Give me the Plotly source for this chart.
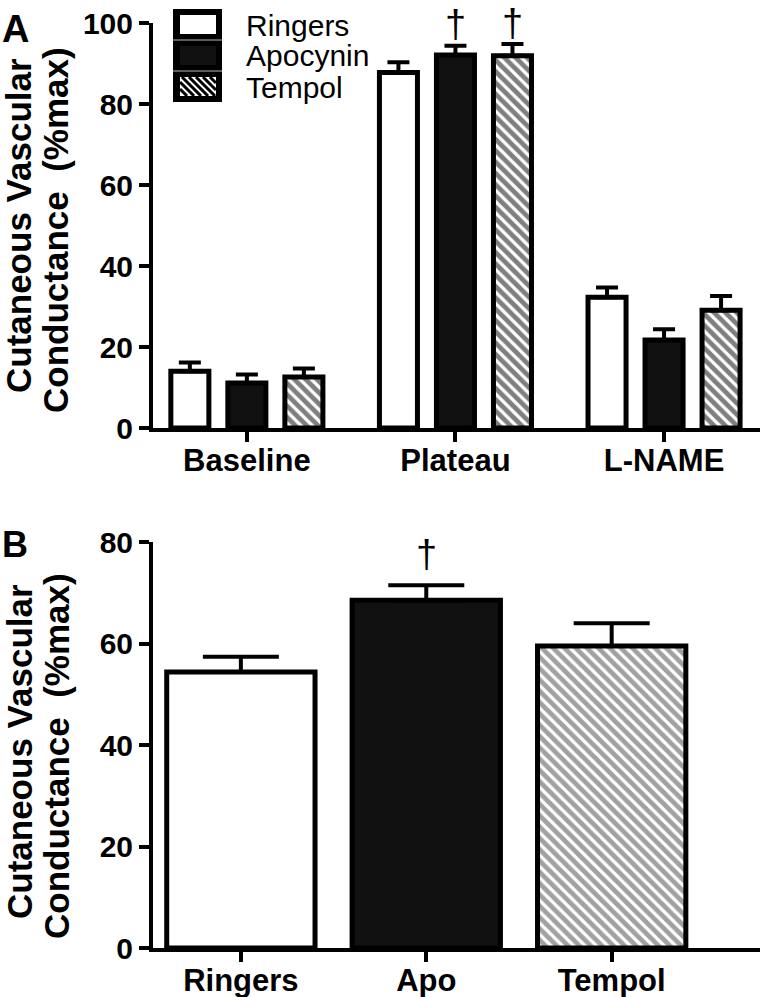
import plotly.graph_objects as go

# ---------------- data ----------------
categories_a = ["Baseline", "Plateau", "L-NAME"]
series_names = ["Ringers", "Apocynin", "Tempol"]
ringers_mean = [14.0, 87.8, 32.3]
ringers_sem = [2.2, 2.5, 2.4]
apocynin_mean = [11.1, 92.1, 21.7]
apocynin_sem = [2.1, 2.3, 2.7]
tempol_mean = [12.6, 91.9, 29.1]
tempol_sem = [2.1, 2.9, 3.5]

categories_b = ["Ringers", "Apo", "Tempol"]
b_mean = [54.4, 68.5, 59.5]
b_sem = [3.0, 3.0, 4.5]

yticks_a = [0, 20, 40, 60, 80, 100]
yticks_b = [0, 20, 40, 60, 80]

sig_a = [("Plateau", "Apocynin"), ("Plateau", "Tempol")]
sig_b = ["Apo"]

ytitle_line1 = "Cutaneous Vascular"
ytitle_line2 = "Conductance\u00a0 (%max)"

# ---------------- styles ----------------
W, H = 760, 997
FONT = "Liberation Sans, Arial, sans-serif"
fills = {"Ringers": "white", "Apocynin": "#111111", "Tempol": "white"}
patterns = {"Ringers": "", "Apocynin": "", "Tempol": "\\"}
BARGAP = 0.18
BARGROUPGAP = 0.333
PAT = dict(fgcolor="black", bgcolor="white", size=8, solidity=0.6)


def px(x):
    return x / W


def py(y):
    return 1 - y / H


fig = go.Figure()

means_a = [ringers_mean, apocynin_mean, tempol_mean]
sems_a = [ringers_sem, apocynin_sem, tempol_sem]
for name, m, s in zip(series_names, means_a, sems_a):
    fig.add_trace(go.Bar(
        x=categories_a, y=m, name=name, xaxis="x", yaxis="y", showlegend=False,
        marker=dict(color=fills[name], line=dict(color="black", width=5),
                    pattern=dict(shape=patterns[name], **PAT)),
        error_y=dict(type="data", array=s, arrayminus=[0] * len(s), symmetric=False,
                     color="black", thickness=4, width=11),
    ))

b_fills = [fills["Ringers"], fills["Apocynin"], fills["Tempol"]]
b_pats = [patterns["Ringers"], patterns["Apocynin"], patterns["Tempol"]]
fig.add_trace(go.Bar(
    x=categories_b, y=b_mean, xaxis="x2", yaxis="y2", showlegend=False,
    width=0.8, offset=-0.4,
    marker=dict(color=b_fills, line=dict(color="black", width=5),
                pattern=dict(shape=b_pats, **PAT)),
    error_y=dict(type="data", array=b_sem, arrayminus=[0] * len(b_sem), symmetric=False,
                 color="black", thickness=4, width=38),
))

axis_common = dict(showline=True, linewidth=4, linecolor="black", ticks="outside",
                   ticklen=10, tickwidth=4, tickcolor="black", showgrid=False,
                   zeroline=False, fixedrange=True, automargin=False)
xfont = dict(family=FONT, size=31, color="black", weight="bold")
yfont = dict(family=FONT, size=30, color="black", weight="bold")

fig.update_layout(
    width=W, height=H, margin=dict(l=0, r=0, t=0, b=0, pad=0),
    paper_bgcolor="white", plot_bgcolor="white",
    barmode="group", bargap=BARGAP, bargroupgap=BARGROUPGAP,
    xaxis=dict(domain=[px(153), 1], anchor="y", range=[-0.45, 2.46],
               tickfont=xfont, ticklabelstandoff=-8, **axis_common),
    yaxis=dict(domain=[py(428), py(23)], anchor="x", range=[0, 100], tickvals=yticks_a,
               tickfont=yfont, **axis_common),
    xaxis2=dict(domain=[px(153), 1], anchor="y2", range=[-0.474, 2.80],
                tickfont=xfont, ticklabelstandoff=-8, **axis_common),
    yaxis2=dict(domain=[py(948), py(542)], anchor="x2", range=[0, 80], tickvals=yticks_b,
                tickfont=yfont, **axis_common),
)

annotations = []
shapes = []

# significance daggers
slot = (1 - BARGAP) / len(series_names)
dagger_gap_a = {"Apocynin": -1, "Tempol": -2}
for cat, ser in sig_a:
    ci = categories_a.index(cat)
    si = series_names.index(ser)
    top = means_a[si][ci] + sems_a[si][ci]
    annotations.append(dict(
        x=ci + (si - (len(series_names) - 1) / 2) * slot, y=top, xref="x", yref="y",
        text="\u2020", showarrow=False, yanchor="bottom", yshift=dagger_gap_a[ser],
        font=dict(family=FONT, size=38, color="black")))
for cat in sig_b:
    ci = categories_b.index(cat)
    annotations.append(dict(
        x=ci, y=b_mean[ci] + b_sem[ci], xref="x2", yref="y2",
        text="\u2020", showarrow=False, yanchor="bottom", yshift=8,
        font=dict(family=FONT, size=38, color="black")))

# panel letters
annotations.append(dict(x=px(0), y=py(29), xref="paper", yref="paper", text="A",
                        showarrow=False, xanchor="left", yanchor="middle",
                        font=dict(family=FONT, size=38, color="black", weight="bold")))
annotations.append(dict(x=px(0), y=py(544), xref="paper", yref="paper", text="B",
                        showarrow=False, xanchor="left", yanchor="middle",
                        font=dict(family=FONT, size=36, color="black", weight="bold")))

# y-axis titles (two lines, rotated)
for yc in (226, 752):
    annotations.append(dict(x=px(19), y=py(yc), xref="paper", yref="paper",
                            text=ytitle_line1, textangle=-90, showarrow=False,
                            xanchor="center", yanchor="middle",
                            font=dict(family=FONT, size=35, color="black", weight="bold")))
    annotations.append(dict(x=px(56), y=py(yc + 4), xref="paper", yref="paper",
                            text=ytitle_line2, textangle=-90, showarrow=False,
                            xanchor="center", yanchor="middle",
                            font=dict(family=FONT, size=35, color="black", weight="bold")))

# legend (drawn swatches)
LX0, LX1 = 173, 222
box_h = 31
top0 = 9
for i, name in enumerate(series_names):
    y0 = top0 + i * box_h
    y1 = y0 + box_h
    shapes.append(dict(type="rect", xref="paper", yref="paper",
                       x0=px(LX0), x1=px(LX1), y0=py(y1), y1=py(y0),
                       fillcolor="black", line=dict(width=0)))
    ix0, ix1, iy0, iy1 = LX0 + 7, LX1 - 6, y0 + 6, y1 - 6
    shapes.append(dict(type="rect", xref="paper", yref="paper",
                       x0=px(ix0), x1=px(ix1), y0=py(iy1), y1=py(iy0),
                       fillcolor=fills[name], line=dict(width=0)))
    if patterns[name]:
        path = ""
        period = 7
        c = ix0 - iy1
        while c < ix1 - iy0:
            ya = max(iy0, ix0 - c)
            yb = min(iy1, ix1 - c)
            if yb > ya:
                path += "M%.5f,%.5f L%.5f,%.5f " % (px(ya + c), py(ya), px(yb + c), py(yb))
            c += period
        shapes.append(dict(type="path", xref="paper", yref="paper", path=path,
                           line=dict(color="black", width=3)))
    if i > 0:
        shapes.append(dict(type="line", xref="paper", yref="paper",
                           x0=px(LX0), x1=px(LX1), y0=py(y0), y1=py(y0),
                           line=dict(color="#bbbbbb", width=1)))
    annotations.append(dict(x=px(244), y=py(y0 + 16), xref="paper", yref="paper",
                            text=name, showarrow=False, xanchor="left", yanchor="middle",
                            font=dict(family=FONT, size=30, color="black")))

fig.update_layout(annotations=annotations, shapes=shapes)
fig.write_html("out.html", config={"displayModeBar": False},
               post_script="document.body.style.margin='0';document.body.style.padding='0';"
                           "document.documentElement.style.overflow='hidden';")
